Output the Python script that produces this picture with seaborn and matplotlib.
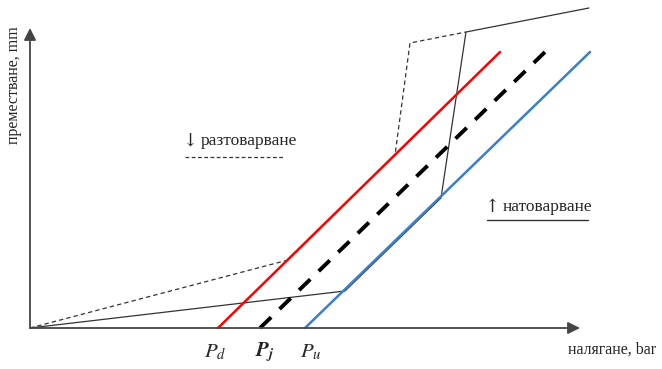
import matplotlib
matplotlib.use("Agg")
import matplotlib.pyplot as plt
import seaborn as sns
import pandas as pd

sns.set_style("white")
plt.rcParams['font.family'] = ['Liberation Serif', 'DejaVu Serif']
plt.rcParams['mathtext.fontset'] = 'stix'

# pressure (x) and displacement (y) of the schematic, arbitrary units
red_x = [188, 470]
red_y = [0, 276]
mid_x = [230, 515]
mid_y = [0, 276]
blue_x = [275, 560]
blue_y = [0, 276]

# loading path (solid thin)
load_x = [0, 315, 411, 436, 559]
load_y = [0, 37, 130, 296, 320]
# unloading path (dashed thin)
unload_x = [0, 258, 365, 380, 436]
unload_y = [0, 68, 173, 285, 296]

p_labels = ['$P_d$', r'$\mathbfit{P}_{\mathbfit{j}}$', '$P_u$']
p_pos = [185, 235, 281]

fig = plt.figure(figsize=(6.62, 3.69), dpi=100)
ax = fig.add_axes([0, 0, 1, 1])

def line(x, y, **kw):
    df = pd.DataFrame({'x': x, 'y': y})
    sns.lineplot(data=df, x='x', y='y', sort=False, estimator=None, ax=ax, **kw)

line(unload_x, unload_y, color='#333333', lw=0.9, ls=(0, (3.5, 2.5)))
line(load_x, load_y, color='#333333', lw=0.9)
line(red_x, red_y, color='#ff0000', lw=1.8)
line(mid_x, mid_y, color='black', lw=2.8, ls=(0, (4, 3)))
line(blue_x, blue_y, color='#3a7fc9', lw=1.8)

# axes arrows
ax.annotate('', xy=(550, 0), xytext=(0, 0),
            arrowprops=dict(arrowstyle='-|>', color='#444444', lw=1.3,
                            mutation_scale=18, shrinkA=0, shrinkB=0))
ax.annotate('', xy=(0, 300), xytext=(0, 0),
            arrowprops=dict(arrowstyle='-|>', color='#444444', lw=1.3,
                            mutation_scale=18, shrinkA=0, shrinkB=0))

for lab, px in zip(p_labels, p_pos):
    ax.text(px, -24, lab, fontsize=15, ha='center', va='center')

ax.text(538, -22, 'налягане, bar', fontsize=11.5, ha='left', va='center')
ax.text(-16, 243, 'преместване, mm', fontsize=11.5, rotation=90,
        ha='center', va='center')

ax.text(152, 187, '↓', fontsize=13, ha='left', va='center',
        family=['DejaVu Serif'])
ax.text(171, 187, 'разтоварване', fontsize=12.5, ha='left', va='center')
ax.plot([155, 255], [171, 171], color='#333333', lw=0.9, ls=(0, (3, 2)))
ax.text(454, 121, '↑', fontsize=13, ha='left', va='center',
        family=['DejaVu Serif'])
ax.text(473, 121, 'натоварване', fontsize=12.5, ha='left', va='center')
ax.plot([457, 558], [108, 108], color='#333333', lw=1.0)

ax.set_xlim(-30, 632)
ax.set_ylim(-41, 328)
ax.set_axis_off()

fig.savefig('out.png', dpi=100)
